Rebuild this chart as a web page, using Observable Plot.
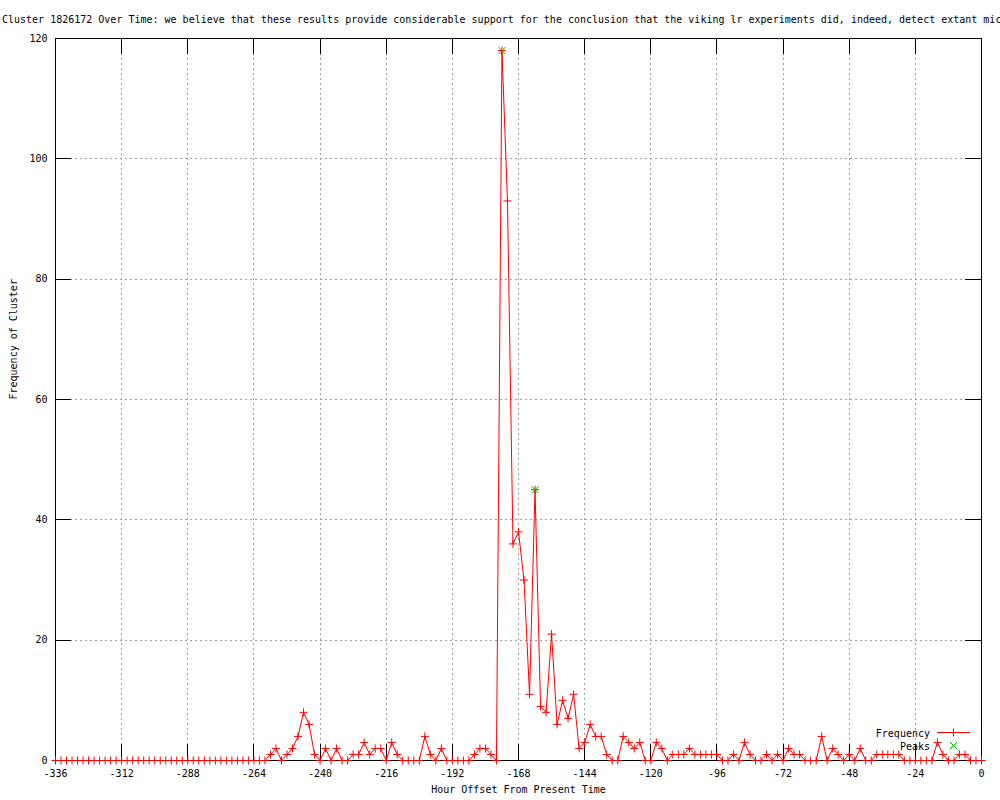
<!DOCTYPE html>
<html><head><meta charset="utf-8">
<script src="https://cdn.jsdelivr.net/npm/d3@7"></script>
<script src="https://cdn.jsdelivr.net/npm/@observablehq/plot@0.6"></script>
<style>
html,body{margin:0;padding:0;background:#fff;overflow:hidden;width:1000px;height:800px}
#wrap{position:relative;width:1000px;height:800px;overflow:hidden}
#title{position:absolute;left:2px;top:14px;font:10px "DejaVu Sans Mono",monospace;line-height:12px;white-space:nowrap;color:#000}
#legend{position:absolute;left:0;top:0}
</style></head><body><div id="wrap"><div id="chart"></div><div id="title"></div><svg id="legend" width="1000" height="800"></svg></div>
<script>
const titleText = "Cluster 1826172 Over Time: we believe that these results provide considerable support for the conclusion that the viking lr experiments did, indeed, detect extant microbial life on mars";
const xLabel = "Hour Offset From Present Time";
const yLabel = "Frequency of Cluster";
const seriesNames = ["Frequency", "Peaks"];

const hours = [
 -336,-334,-332,-330,-328,-326,-324,-322,-320,-318,-316,-314,-312,-310,-308,-306,-304,-302,-300,-298,
 -296,-294,-292,-290,-288,-286,-284,-282,-280,-278,-276,-274,-272,-270,-268,-266,-264,
 -262,-260,-258,-256,-254,-252,-250,-248,-246,-244,-242,-240,
 -238,-236,-234,-232,-230,-228,-226,-224,-222,-220,-218,-216,
 -214,-212,-210,-208,-206,-204,-202,-200,-198,-196,-194,-192,
 -190,-188,-186,-184,-182,-180,-178,-176,-174,-172,-170,-168,
 -166,-164,-162,-160,-158,-156,-154,-152,-150,-148,-146,-144,
 -142,-140,-138,-136,-134,-132,-130,-128,-126,-124,-122,-120,
 -118,-116,-114,-112,-110,-108,-106,-104,-102,-100,-98,-96,
 -94,-92,-90,-88,-86,-84,-82,-80,-78,-76,-74,-72,
 -70,-68,-66,-64,-62,-60,-58,-56,-54,-52,-50,-48,
 -46,-44,-42,-40,-38,-36,-34,-32,-30,-28,-26,-24,
 -22,-20,-18,-16,-14,-12,-10,-8,-6,-4,-2,0
];
const frequency = [
 0,0,0,0,0,0,0,0,0,0,0,0,0,0,0,0,0,0,0,0,
 0,0,0,0,0,0,0,0,0,0,0,0,0,0,0,0,0,
 0,0,1,2,0,1,2,4,8,6,1,0,
 2,0,2,0,0,1,1,3,1,2,2,0,
 3,1,0,0,0,0,4,1,0,2,0,0,
 0,0,0,1,2,2,1,0,118,93,36,38,
 30,11,45,9,8,21,6,10,7,11,2,3,
 6,4,4,1,0,0,4,3,2,3,0,0,
 3,2,0,1,1,1,2,1,1,1,1,1,
 0,0,1,0,3,1,0,0,1,0,1,0,
 2,1,1,0,0,0,4,0,2,1,0,1,
 0,2,0,0,1,1,1,1,1,0,0,0,
 0,0,0,3,1,0,0,1,1,0,0,0
];
const peakHours = [-174, -162];
const peakValues = [118, 45];
const xTicks = [-336,-312,-288,-264,-240,-216,-192,-168,-144,-120,-96,-72,-48,-24,0];
const yTicks = [0,20,40,60,80,100,120];

const data = hours.map((h, i) => ({hour: h, freq: frequency[i]}));
const peaks = peakHours.map((h, i) => ({hour: h, freq: peakValues[i]}));

const plusSym = {draw(ctx, size) { const r = Math.sqrt(size / Math.PI); ctx.moveTo(-r, 0); ctx.lineTo(r, 0); ctx.moveTo(0, -r); ctx.lineTo(0, r); }};
const crossSym = {draw(ctx, size) { const r = Math.sqrt(size / Math.PI); ctx.moveTo(-r, -r); ctx.lineTo(r, r); ctx.moveTo(-r, r); ctx.lineTo(r, -r); }};

const FONT = "'DejaVu Sans Mono', monospace";
const fmt = d => String(d);
const W = 1000, H = 800, ML = 55, MR = 19, MT = 38, MB = 40, TICK = 16;
const frameW = W - ML - MR, frameH = H - MT - MB;

const chart = Plot.plot({
  width: W, height: H,
  marginLeft: ML, marginRight: MR, marginTop: MT, marginBottom: MB,
  style: {fontFamily: FONT, fontSize: "10px", background: "#fff", color: "#000"},
  x: {domain: [-336, 0], axis: null},
  y: {domain: [0, 120], axis: null},
  marks: [
    Plot.gridX(xTicks, {stroke: "#a0a0a0", strokeOpacity: 1, strokeDasharray: "2,3", shapeRendering: "crispEdges"}),
    Plot.gridY(yTicks, {stroke: "#a0a0a0", strokeOpacity: 1, strokeDasharray: "2,3", shapeRendering: "crispEdges"}),
    Plot.axisX(xTicks, {anchor: "bottom", tickSize: 0, tickPadding: 9, tickFormat: fmt, label: null}),
    Plot.axisY(yTicks, {anchor: "left", tickSize: 0, tickPadding: 8, tickFormat: fmt, label: null}),
    // inward ticks (bottom, top, left, right) like gnuplot
    Plot.tickX(xTicks, {x: d => d, insetTop: frameH - TICK, stroke: "#000", shapeRendering: "crispEdges"}),
    Plot.tickX(xTicks, {x: d => d, insetBottom: frameH - TICK, stroke: "#000", shapeRendering: "crispEdges"}),
    Plot.tickY(yTicks, {y: d => d, insetRight: frameW - TICK, stroke: "#000", shapeRendering: "crispEdges"}),
    Plot.tickY(yTicks, {y: d => d, insetLeft: frameW - TICK, stroke: "#000", shapeRendering: "crispEdges"}),
    Plot.frame({stroke: "#000", strokeWidth: 1, shapeRendering: "crispEdges"}),
    Plot.text([xLabel], {frameAnchor: "bottom", dy: 32, fontSize: 10}),
    Plot.text([yLabel], {frameAnchor: "left", dx: -42, rotate: -90, fontSize: 10}),
    Plot.line(data, {x: "hour", y: "freq", stroke: "#ff0000", strokeWidth: 1}),
    Plot.dot(data, {x: "hour", y: "freq", symbol: plusSym, r: 4, stroke: "#ff0000", fill: "none", strokeWidth: 1}),
    Plot.dot(peaks, {x: "hour", y: "freq", symbol: crossSym, r: 3.5, stroke: "#00c000", fill: "none", strokeWidth: 1})
  ]
});
document.getElementById("chart").appendChild(chart);
document.getElementById("title").textContent = titleText;

// legend (inside plot, bottom-right, like gnuplot key)
const lg = d3.select("#legend");
lg.append("text").attr("x", 930).attr("y", 736.5).attr("text-anchor", "end")
  .style("font", "10px " + FONT).text(seriesNames[0]);
lg.append("line").attr("x1", 937).attr("x2", 970).attr("y1", 732.5).attr("y2", 732.5).attr("stroke", "#ff0000");
lg.append("path").attr("transform", "translate(953.5,732.5)").attr("d", d3.symbol(plusSym, Math.PI * 16)()).attr("stroke", "#ff0000").attr("fill", "none");
lg.append("text").attr("x", 930).attr("y", 749.5).attr("text-anchor", "end")
  .style("font", "10px " + FONT).text(seriesNames[1]);
lg.append("path").attr("transform", "translate(953.5,745.5)").attr("d", d3.symbol(crossSym, Math.PI * 12.25)()).attr("stroke", "#00c000").attr("fill", "none");
</script></body></html>
